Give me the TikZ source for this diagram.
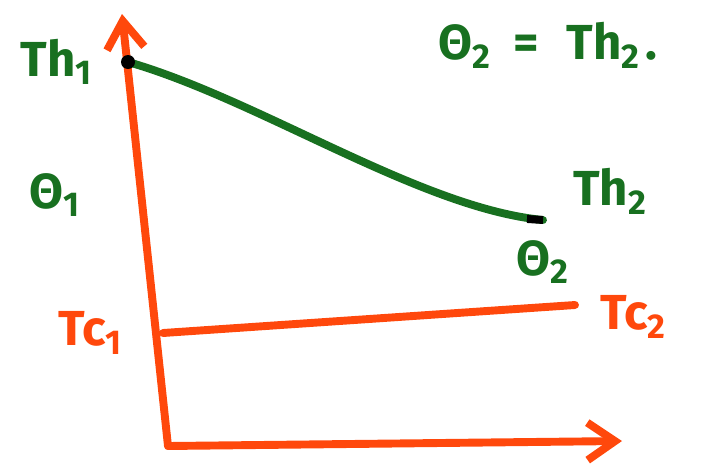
\documentclass[tikz,border=0pt]{standalone}
\usepackage{fontspec}
\setmainfont{Fira Sans}
\usetikzlibrary{arrows.meta,positioning}

\begin{document}
\begin{tikzpicture}[x=0.02cm,y=-0.02cm,>={Straight Barb[length=5.5mm,width=7.5mm]},node distance=0.6cm]
  \definecolor{pengreen}{RGB}{24,112,32}
  \definecolor{penred}{RGB}{255,72,12}
  \tikzstyle{lbl}=[inner sep=0pt,font=\bfseries\fontsize{28}{30}\selectfont]
  \tikzstyle{axis}=[penred,line width=4.5pt,line cap=round,line join=round]
  \useasboundingbox (0,0) rectangle (706,467);
  % axes and temperature lines
  \coordinate (o) at (168,446);
  \coordinate (ytop) at (122,14);
  \coordinate (xend) at (622,441);
  \coordinate (th1) at (128,62);
  \coordinate (th2) at (543,220);
  \coordinate (th2end) at (527,219);
  \coordinate (tc1) at (163,333);
  \coordinate (tc2) at (575,305);
  \draw[axis,->] (o) -- (ytop);
  \draw[axis,->] (o) -- (xend);
  \draw[axis] (tc1) -- (tc2);
  \draw[pengreen,line width=4.5pt,line cap=round] (th1) .. controls (260,100) and (420,208) .. (th2);
  \fill (th1) circle (7);
  \draw[line width=4.5pt] (th2end) -- (th2);
  % labels
  \node[lbl,pengreen,left=0.7cm of th1] (th1lbl) {Th\textsubscript{1}};
  \node[lbl,pengreen,above right=0.1cm and 0.6cm of th2] (th2lbl) {Th\textsubscript{2}};
  \node[lbl,pengreen,below=0.4cm of th2] (q2lbl) {Θ\textsubscript{2}};
  \node[lbl,pengreen] (q1lbl) at (55,195) {Θ\textsubscript{1}};
  \node[lbl,pengreen,anchor=west] (q2eq) at (438,45) {Θ\textsubscript{2}\hspace{0.45cm}=\hspace{0.55cm}Th\textsubscript{2}\hspace{0.1cm}.};
  \node[lbl,penred,left=0.8cm of tc1] (tc1lbl) {Tc\textsubscript{1}};
  \node[lbl,penred,below right=-0.2cm and 0.5cm of tc2] (tc2lbl) {Tc\textsubscript{2}};
\end{tikzpicture}
\end{document}
